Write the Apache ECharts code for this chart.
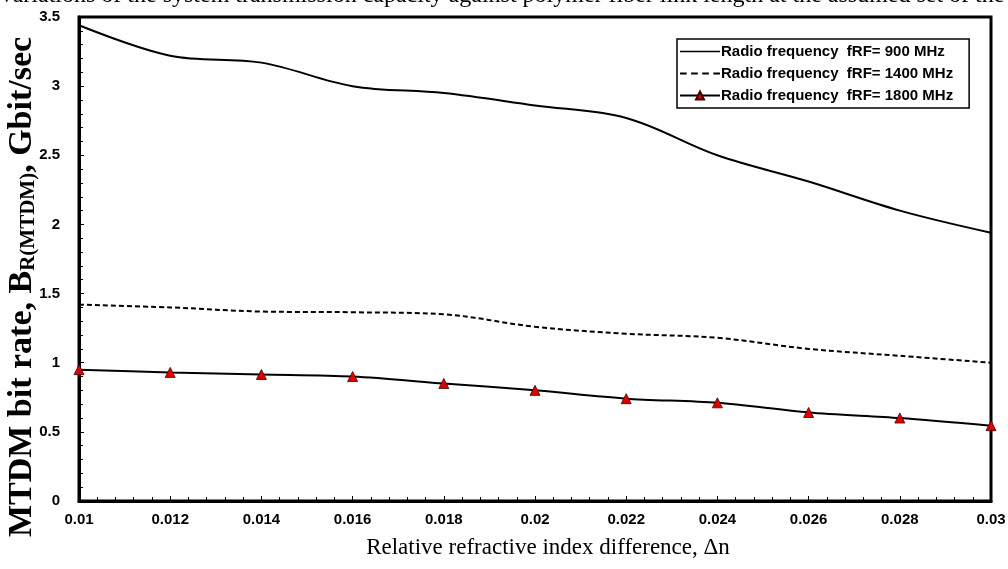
<!DOCTYPE html>
<html>
<head>
<meta charset="utf-8">
<script src="https://cdn.jsdelivr.net/npm/echarts@6/dist/echarts.min.js"></script>
<style>
html,body{margin:0;padding:0;background:#fff;}
#chart{width:1008px;height:569px;}
</style>
</head>
<body>
<div id="chart"></div>
<script>
const deltaN = [0.01, 0.012, 0.014, 0.016, 0.018, 0.02, 0.022, 0.024, 0.026, 0.028, 0.03];
const rate900 = [3.44, 3.22, 3.17, 3.0, 2.95, 2.86, 2.77, 2.5, 2.31, 2.1, 1.94];
const rate1400 = [1.42, 1.40, 1.37, 1.365, 1.35, 1.26, 1.21, 1.18, 1.10, 1.05, 1.0];
const rate1800 = [0.95, 0.93, 0.915, 0.9, 0.85, 0.80, 0.74, 0.71, 0.64, 0.60, 0.545];
const seriesNames = ['Radio frequency  fRF= 900 MHz', 'Radio frequency  fRF= 1400 MHz', 'Radio frequency  fRF= 1800 MHz'];
const titleText = 'Variations of the system transmission capacity against polymer fiber link length at the assumed set of the';
const xAxisTitle = 'Relative refractive index difference, \u0394n';

const pair = (ys) => deltaN.map((x, i) => [x, ys[i]]);
const serif = '"Liberation Serif", "Times New Roman", serif';
const sans = '"Liberation Sans", Arial, sans-serif';

const chart = echarts.init(document.getElementById('chart'));
chart.setOption({
  animation: false,
  backgroundColor: '#fff',
  grid: {left: 79, right: 17, top: 17, bottom: 68, show: true, borderColor: '#000', borderWidth: 3,
         backgroundColor: 'transparent', outerBoundsMode: 'none', containLabel: false},
  graphic: [
    {type: 'text', x: -2, y: -16, silent: true,
     style: {text: titleText, font: '24px ' + serif, fill: '#000'}},
    {type: 'text', x: 22, y: 287, rotation: Math.PI / 2, silent: true,
     style: {
       text: '{b|MTDM bit rate, B}{s|R(MTDM)}{b|, Gbit/sec}', align: 'center', verticalAlign: 'middle',
       rich: {
         b: {fontFamily: serif, fontWeight: 'bold', fontSize: 34, fill: '#000', color: '#000'},
         s: {fontFamily: serif, fontWeight: 'bold', fontSize: 21, fill: '#000', color: '#000', verticalAlign: 'bottom', padding: [14, 0, 0, 0]}
       }
     }},
    {type: 'text', x: 548, y: 548, silent: true,
     style: {text: xAxisTitle, font: '23px ' + serif, fill: '#000', align: 'center', verticalAlign: 'middle'}}
  ],
  legend: {
    left: 677, top: 39, orient: 'vertical', itemGap: 7, itemWidth: 40, itemHeight: 10,
    borderColor: '#000', borderWidth: 1.5, padding: [5, 16, 5, 2], backgroundColor: '#fff',
    textStyle: {fontFamily: sans, fontWeight: 'bold', fontSize: 15, color: '#000', padding: [0, 0, 0, -4]},
    data: [
      {name: seriesNames[0], icon: 'path://M0,0h40v1.6h-40z'},
      {name: seriesNames[1], icon: 'path://M0,0h6v1.6h-6z M10,0h6v1.6h-6z M20,0h6v1.6h-6z M30,0h6v1.6h-6z'},
      {name: seriesNames[2]}
    ]
  },
  xAxis: {
    type: 'value', min: 0.01, max: 0.03, interval: 0.002,
    axisLine: {lineStyle: {color: '#000', width: 3}},
    axisTick: {inside: true, length: 5, lineStyle: {color: '#000'}},
    minorTick: {show: true, splitNumber: 5, length: 4, lineStyle: {color: '#000'}},
    splitLine: {show: false},
    axisLabel: {
      color: '#000', fontWeight: 'bold', fontSize: 15, fontFamily: sans, margin: 11,
      formatter: v => String(parseFloat(v.toFixed(4)))
    }
  },
  yAxis: {
    type: 'value', min: 0, max: 3.5, interval: 0.5,
    axisLine: {show: true, lineStyle: {color: '#000', width: 3}},
    axisTick: {show: true, inside: true, length: 5, lineStyle: {color: '#000'}},
    minorTick: {show: true, splitNumber: 5, length: 4, lineStyle: {color: '#000'}},
    splitLine: {show: false},
    axisLabel: {color: '#000', fontWeight: 'bold', fontSize: 15, fontFamily: sans, margin: 19}
  },
  series: [
    {name: seriesNames[0], type: 'line', smooth: 0.35, showSymbol: false, symbol: 'none', data: pair(rate900),
     lineStyle: {color: '#000', width: 2}, itemStyle: {color: '#000'}},
    {name: seriesNames[1], type: 'line', smooth: 0.35, showSymbol: false, symbol: 'none', data: pair(rate1400),
     lineStyle: {color: '#000', width: 2, type: [5, 3]}, itemStyle: {color: '#000'}},
    {name: seriesNames[2], type: 'line', smooth: 0.3, symbol: 'triangle', symbolSize: 10, data: pair(rate1800),
     lineStyle: {color: '#000', width: 2}, itemStyle: {color: '#e00000', borderColor: '#400', borderWidth: 0.8}}
  ]
});
</script>
</body>
</html>
